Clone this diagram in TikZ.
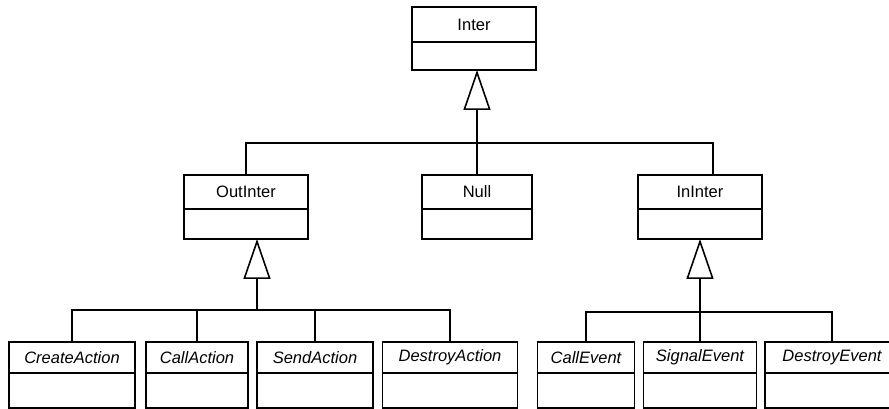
\documentclass[tikz,border=0pt]{standalone}
\usepackage{fontspec}
\setmainfont{Liberation Sans}
\usetikzlibrary{positioning,calc,arrows.meta}
\tikzset{
  cname/.style={draw,rectangle,outer sep=0pt,inner sep=0pt,
    minimum width=#1 cm,minimum height=0.68cm,
    font=\fontsize{9.4}{11}\selectfont},
  cattr/.style={draw,rectangle,outer sep=0pt,inner sep=0pt,
    minimum width=#1 cm,minimum height=0.6cm},
  abstr/.style={font=\fontsize{9.4}{11}\selectfont\itshape,minimum height=0.62cm},
  low/.style={minimum height=0.7cm},
  gen/.style={-{Triangle[open,length=8mm,width=5.4mm]}}
}
\begin{document}
\begin{tikzpicture}[x=0.02cm,y=-0.02cm,line width=0.9pt]
  \useasboundingbox (0,0) rectangle (889,409);

  % root
  \node [cname=2.48,minimum height=0.7cm] (inter) at (474,24.5) {Inter};
  \node [cattr=2.48,minimum height=0.56cm,below=0pt of inter] (inter-a) {};

  % middle row
  \node [cname=2.48] (outinter) at (246,192) {OutInter};
  \node [cattr=2.48,below=0pt of outinter] (outinter-a) {};
  \node [cname=2.2] (null) at (477,192) {Null};
  \node [cattr=2.2,below=0pt of null] (null-a) {};
  \node [cname=2.48] (ininter) at (700,192) {InInter};
  \node [cattr=2.48,below=0pt of ininter] (ininter-a) {};

  % actions
  \node [cname=2.52,abstr] (create) at (72,357.5) {CreateAction};
  \node [cattr=2.52,low,below=0pt of create] (create-a) {};
  \node [cname=2.04,abstr] (call) at (197,357.5) {CallAction};
  \node [cattr=2.04,low,below=0pt of call] (call-a) {};
  \node [cname=2.32,abstr] (send) at (315,357.5) {SendAction};
  \node [cattr=2.32,low,below=0pt of send] (send-a) {};
  \node [cname=2.7,abstr] (destroy) at (450,357.5) {DestroyAction};
  \node [cattr=2.7,low,below=0pt of destroy] (destroy-a) {};

  % events
  \node [cname=1.94,abstr] (callev) at (586,357.5) {CallEvent};
  \node [cattr=1.94,low,below=0pt of callev] (callev-a) {};
  \node [cname=2.26,abstr] (signalev) at (700,357.5) {SignalEvent};
  \node [cattr=2.26,low,below=0pt of signalev] (signalev-a) {};
  \node [cname=2.68,abstr] (destroyev) at (832,357.5) {DestroyEvent};
  \node [cattr=2.68,low,below=0pt of destroyev] (destroyev-a) {};

  % generalisations
  \coordinate (bus0) at (477,143);
  \draw [gen] (null.north) -- (null.north |- inter-a.south);
  \draw (outinter.north) |- (bus0) -| ([xshift=0.26cm]ininter.north);

  \coordinate (bus1) at (257,310);
  \draw [gen] (bus1) -- (bus1 |- outinter-a.south);
  \draw (create.north) |- (bus1) -| (destroy.north);
  \draw (call.north) -- (call.north |- bus1);
  \draw (send.north) -- (send.north |- bus1);

  \coordinate (bus2) at (700,312);
  \draw [gen] (signalev.north) -- (signalev.north |- ininter-a.south);
  \draw (callev.north) |- (bus2) -| (destroyev.north);
\end{tikzpicture}
\end{document}
